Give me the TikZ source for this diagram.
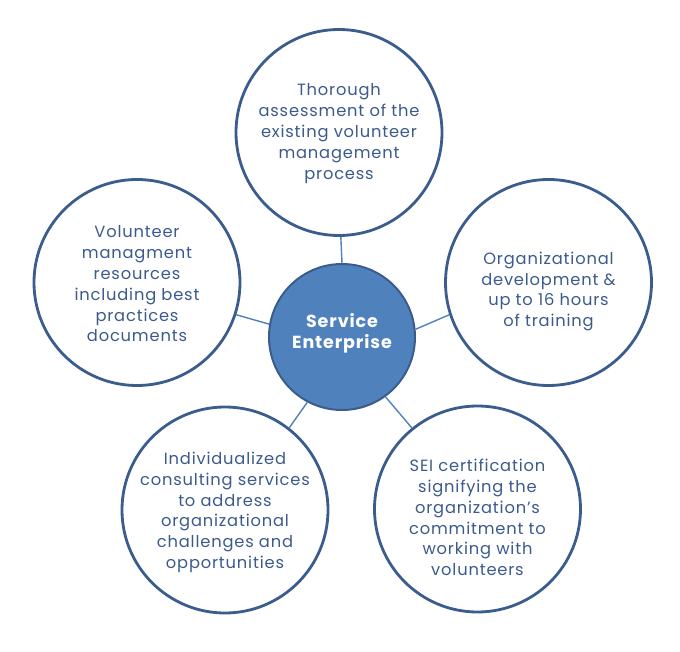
\documentclass[tikz,border=0pt]{standalone}
\usepackage{fontspec}
\setmainfont{Poppins}[LetterSpace=5]
\definecolor{ring}{HTML}{3A5D8D}
\definecolor{txt}{HTML}{3C5B8C}
\definecolor{hub}{HTML}{4F81BD}
\definecolor{link}{HTML}{4F81BD}
\tikzset{
  outer/.style={circle, draw=ring, line width=2.8pt, fill=white, minimum size=206pt, inner sep=0pt},
  hubc/.style={circle, draw=ring, line width=2pt, fill=hub, minimum size=146pt, inner sep=0pt},
  lbl/.style={align=center, text=txt, font=\fontsize{16.3}{20.8}\selectfont, inner sep=0pt},
  hublbl/.style={align=center, text=white, font=\fontsize{17.5}{20.5}\selectfont\bfseries, inner sep=0pt},
  conn/.style={draw=link, line width=1.4pt}
}
\begin{document}
\begin{tikzpicture}[x=1pt,y=-1pt]
\useasboundingbox (0,0) rectangle (680,652);
\node[hubc] (c) at (342,337) {};
\node[outer] (top) at (339,132.5) {};
\node[outer] (lft) at (137,282.5) {};
\node[outer] (rgt) at (548.5,282.5) {};
\node[outer] (bl) at (225,510) {};
\node[outer] (br) at (477.5,509) {};
\draw[conn] (c.90) -- (top.-89);
\draw[conn] (c.170.4) -- (lft.-18.4);
\draw[conn] (c.6.5) -- (rgt.198.3);
\draw[conn] (c.-118.6) -- (bl.52.4);
\draw[conn] (c.-54.2) -- (br.129.9);
\node[hublbl] (ct) at (342,333.5) {Service\\Enterprise};
\node[lbl] (tt) at (339,133.5) {Thorough\\assessment of the\\existing volunteer\\management\\process};
\node[lbl] (lt) at (137,284) {Volunteer\\managment\\resources\\including best\\practices\\documents};
\node[lbl] (rt) at (548.5,291.5) {Organizational\\development \&\\up to 16 hours\\of training};
\node[lbl] (blt) at (225,512.5) {Individualized\\consulting services\\to address\\organizational\\challenges and\\opportunities};
\node[lbl] (brt) at (477.5,517.5) {SEI certification\\signifying the\\organization’s\\commitment to\\working with\\volunteers};
\end{tikzpicture}
\end{document}
